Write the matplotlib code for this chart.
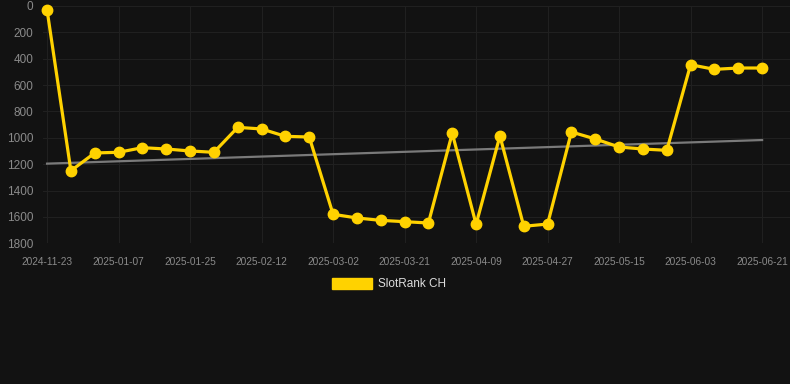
import numpy as np
import matplotlib
matplotlib.use("Agg")
import matplotlib.pyplot as plt
from matplotlib.patches import Patch

plt.rcParams['font.family'] = ['Liberation Sans', 'DejaVu Sans']

series_name = "SlotRank CH"
tick_labels = ["2024-11-23", "2025-01-07", "2025-01-25", "2025-02-12", "2025-03-02",
               "2025-03-21", "2025-04-09", "2025-04-27", "2025-05-15", "2025-06-03",
               "2025-06-21"]
ranks = [30, 1250, 1115, 1110, 1075, 1085, 1100, 1110, 921, 933, 989, 994,
         1580, 1608, 1626, 1636, 1646, 966, 1656, 986, 1671, 1654, 956, 1009,
         1070, 1085, 1095, 446, 481, 471, 471]
trend_ends = [1196, 1017]

bg = "#121212"
gold = "#FFD200"

x = np.arange(len(ranks))
y = np.array(ranks, dtype=float)
trend = np.linspace(trend_ends[0], trend_ends[1], len(ranks))

fig = plt.figure(figsize=(7.9, 3.84), dpi=100, facecolor=bg)
ax = fig.add_axes([43/790, (384-243.3)/384, 1-43/790, (243.3-5.9)/384])
ax.set_facecolor(bg)

ax.plot(x, trend, color="#7a7a7a", lw=1.6, zorder=2)
ax.plot(x, y, color=gold, lw=2.3, marker="o", markersize=7.5, zorder=3, clip_on=False)

ax.set_ylim(1800, 0)
ax.set_yticks(np.arange(0, 1801, 200))
ax.set_xlim(-0.17, len(ranks) - 1 + 1.17)
tick_pos = np.arange(0, len(ranks), 3)
ax.set_xticks(tick_pos)
ax.set_xticklabels(tick_labels)

ax.grid(True, color="#202020", lw=0.8)
ax.set_axisbelow(True)
for s in ax.spines.values():
    s.set_visible(False)
ax.tick_params(axis='x', length=0, pad=10, labelsize=7.3, labelcolor="#8a8a8a")
ax.tick_params(axis='y', length=0, pad=7, labelsize=8.5, labelcolor="#8a8a8a")

handle = Patch(facecolor=gold, edgecolor=gold)
leg = fig.legend([handle], [series_name], loc="center", bbox_to_anchor=(389/790, 1 - 284/384),
                 frameon=False, fontsize=8.5, labelcolor="#dddddd",
                 handlelength=3.4, handleheight=1.05, handletextpad=0.5)

fig.savefig("out.png", dpi=100, facecolor=bg)
